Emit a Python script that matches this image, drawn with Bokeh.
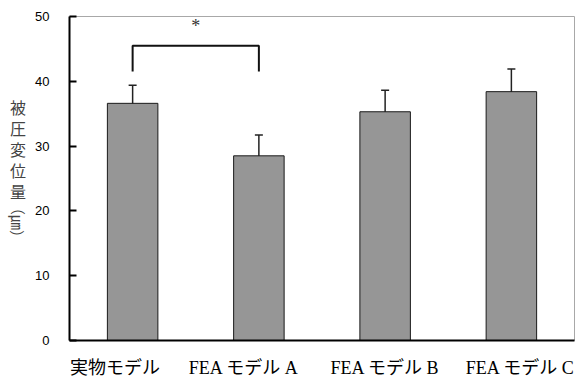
from bokeh.plotting import figure
from bokeh.layouts import row
from bokeh.models import (ColumnDataSource, Range1d, FixedTicker, Whisker, TeeHead)
from bokeh.core.properties import value
from bokeh.embed import file_html
from bokeh.resources import INLINE

categories = ["実物モデル", "FEA モデル A", "FEA モデル B", "FEA モデル C"]
means = [36.6, 28.5, 35.3, 38.4]
errors = [2.8, 3.2, 3.3, 3.5]
y_ticks = [0, 10, 20, 30, 40, 50]
ylabel_chars = ["被", "圧", "変", "位", "量"]
ylabel_unit = "（㎛）"
sig_pair = [1, 2]
sig_top = 45.5
sig_bottom = 41.5
# horizontal shift of each category label relative to its bar (in category units)
label_shift = [-0.14, -0.12, 0.0, 0.07]

H = 380
TOP, BOTTOM = 16, 40
FRAME_H = H - TOP - BOTTOM
xs = list(range(1, len(categories) + 1))
src = ColumnDataSource(dict(
    x=xs, top=means,
    upper=[m + e for m, e in zip(means, errors)],
    lower=[m - e for m, e in zip(means, errors)],
))

p = figure(width=550, height=H, output_backend="svg", toolbar_location=None,
           x_range=Range1d(0.5, len(categories) + 0.5), y_range=Range1d(0, 50),
           min_border_left=39, min_border_right=6, min_border_top=TOP, min_border_bottom=BOTTOM)
p.background_fill_color = "white"
p.border_fill_color = "white"
p.outline_line_color = "#a8a8a8"
p.outline_line_width = 1
p.xgrid.visible = False
p.ygrid.visible = False

p.vbar(x="x", top="top", width=0.4, bottom=0, source=src,
       fill_color="#969696", line_color="#1a1a1a", line_width=1)

w = Whisker(base="x", upper="upper", lower="lower", source=src,
            line_color="#222222", line_width=1.5,
            upper_head=TeeHead(size=8, line_color="#222222", line_width=1.5),
            lower_head=TeeHead(size=8, line_color="#222222", line_width=1.5))
p.add_layout(w)

# significance bracket
bx = [sig_pair[0], sig_pair[0], sig_pair[1], sig_pair[1]]
by = [sig_bottom, sig_top, sig_top, sig_bottom]
p.line(bx, by, line_color="#111111", line_width=2)
p.text(x=[(sig_pair[0] + sig_pair[1]) / 2], y=[48.5], text=["*"],
       text_font=value("Liberation Serif"), text_font_size="18px",
       text_align="center", text_baseline="middle", text_color="#333333")

# axes
p.yaxis.ticker = FixedTicker(ticks=y_ticks)
p.yaxis.axis_line_color = "black"
p.yaxis.axis_line_width = 2
p.yaxis.major_tick_in = 7
p.yaxis.major_tick_out = 0
p.yaxis.major_tick_line_width = 2
p.yaxis.minor_tick_line_color = None
p.yaxis.major_label_text_font = "Liberation Sans"
p.yaxis.major_label_text_font_size = "13px"
p.yaxis.major_label_text_color = "black"
p.yaxis.major_label_standoff = 20

label_pos = [x + s for x, s in zip(xs, label_shift)]
p.xaxis.ticker = FixedTicker(ticks=label_pos)
p.xaxis.major_label_overrides = {x: c for x, c in zip(label_pos, categories)}
p.xaxis.axis_line_color = "black"
p.xaxis.axis_line_width = 2
p.xaxis.major_tick_line_color = None
p.xaxis.minor_tick_line_color = None
p.xaxis.major_label_text_font = "'Liberation Serif', 'Noto Sans CJK JP'"
p.xaxis.major_label_text_font_size = "18px"
p.xaxis.major_label_text_color = "black"
p.xaxis.major_label_standoff = 11

# separate narrow panel (no axes) for the vertically stacked y-axis title;
# its frame is aligned with the main frame, so y is measured in pixels above the frame bottom
lab = figure(width=30, height=H, output_backend="svg", toolbar_location=None,
             x_axis_location=None, y_axis_location=None,
             x_range=Range1d(0, 30), y_range=Range1d(0, FRAME_H),
             min_border_left=0, min_border_right=0, min_border_top=TOP, min_border_bottom=BOTTOM)
lab.grid.visible = False
lab.outline_line_color = None
lab.background_fill_color = "white"
lab.border_fill_color = "white"
frame_bottom_px = H - BOTTOM
char_y = [frame_bottom_px - 106 - i * 21 for i in range(len(ylabel_chars))]
lab.text(x=[17.5] * len(ylabel_chars), y=char_y, text=ylabel_chars,
         text_font=value("Noto Sans CJK JP"), text_font_size="16px",
         text_color="#444444", text_align="center", text_baseline="middle")
lab.text(x=[17.5], y=[frame_bottom_px - 222], text=[ylabel_unit], angle=-1.5708,
         text_font=value("Noto Sans CJK JP"), text_font_size="15px",
         text_color="#444444", text_align="center", text_baseline="middle")

layout = row(lab, p, spacing=0)
open("out.html", "w").write(file_html(layout, INLINE))
